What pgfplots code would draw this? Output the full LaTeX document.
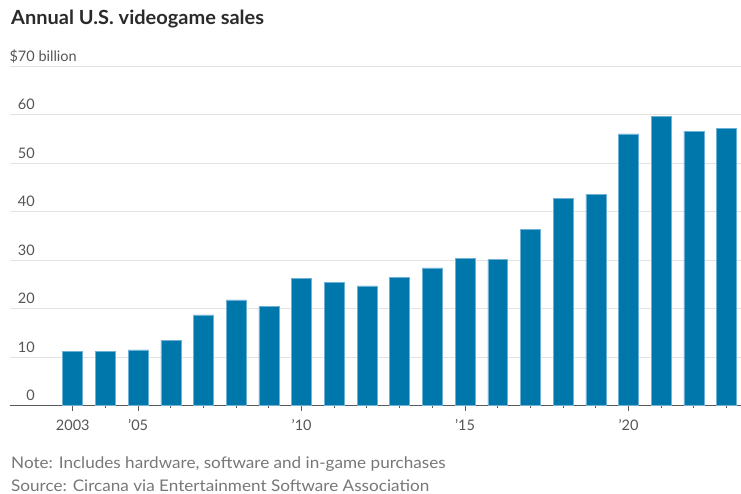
\documentclass[border=0pt]{standalone}
\usepackage{pgfplots}
\pgfplotsset{compat=1.18}
\usepackage{fontspec}
\setmainfont{Lato}
\newfontfamily\notefont[FakeStretch=1.07]{Lato}
\newfontfamily\titlefont[FakeStretch=1.025]{Lato}
\definecolor{barblue}{HTML}{0077AA}
\definecolor{baredge}{HTML}{6FB0D6}
\definecolor{gridgray}{HTML}{E2E2E2}
\definecolor{axisgray}{HTML}{5A5A5A}
\definecolor{titlecol}{HTML}{2A2A2A}
\definecolor{labelcol}{HTML}{555555}
\definecolor{notecol}{HTML}{777777}
\begin{document}
\begin{tikzpicture}[x=1pt,y=1pt]
\path[use as bounding box] (0,0) rectangle (741,-494);
\node[anchor=base west, inner sep=0pt, font=\titlefont\fontsize{19.5}{22}\selectfont\bfseries, text=titlecol] at (11,-25) {Annual U.S. videogame sales};
\begin{axis}[
  at={(10pt,-405.7pt)}, anchor=south west,
  scale only axis, width=731pt, height=339.7pt,
  xmin=2001.08, xmax=2023.44, ymin=0, ymax=70,
  axis x line*=bottom, axis y line*=left,
  y axis line style={draw=none},
  x axis line style={draw=axisgray, line width=1.3pt},
  ytick={0,10,...,70},
  yticklabels={0,10,20,30,40,50,60,{\$70\rlap{\ billion}}},
  ymajorgrids, grid style={draw=gridgray, line width=1pt},
  ytick style={draw=none},
  xtick={2003,2005,2010,2015,2020},
  xticklabels={2003,’05,’10,’15,’20},
  minor xtick={2003,...,2023},
  tick align=outside,
  major tick length=5pt, minor tick length=2.5pt,
  xtick style={draw=axisgray, line width=1pt},
  yticklabel style={anchor=base east, inner sep=0pt, xshift=30pt, yshift=5pt, font=\fontsize{14.5}{16}\selectfont, text=labelcol},
  xticklabel style={anchor=base, inner sep=0pt, yshift=-20pt, font=\fontsize{14.5}{16}\selectfont, text=labelcol},
  clip=false,
]
\addplot[ybar, bar width=0.61, fill=barblue, draw=baredge, line width=0.6pt] coordinates {
(2003,11.2) (2004,11.2) (2005,11.5) (2006,13.4) (2007,18.7) (2008,21.8) (2009,20.4)
(2010,26.2) (2011,25.4) (2012,24.7) (2013,26.4) (2014,28.4) (2015,30.3) (2016,30.1)
(2017,36.3) (2018,42.8) (2019,43.6) (2020,56.0) (2021,59.6) (2022,56.6) (2023,57.1)
};
\end{axis}
\node[anchor=base west, inner sep=0pt, font=\notefont\fontsize{16}{18}\selectfont, text=notecol] at (11,-468) {Note: Includes hardware, software and in-game purchases};
\node[anchor=base west, inner sep=0pt, font=\notefont\fontsize{16}{18}\selectfont, text=notecol] at (11,-491) {Source: Circana via Entertainment Software Association};
\end{tikzpicture}
\end{document}
